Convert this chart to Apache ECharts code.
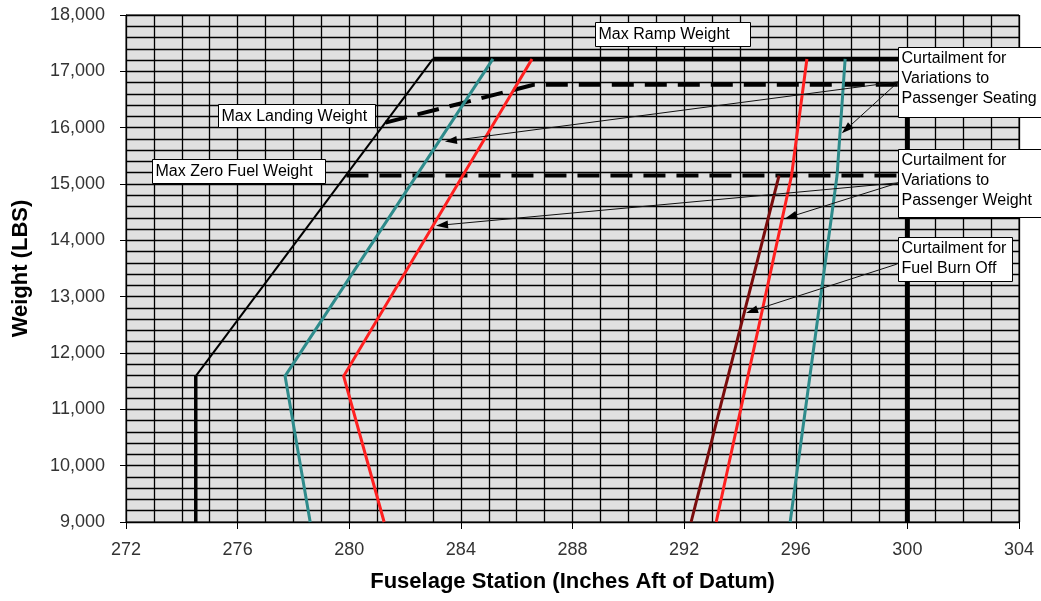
<!DOCTYPE html>
<html>
<head>
<meta charset="utf-8">
<script src="https://cdn.jsdelivr.net/npm/echarts@6/dist/echarts.min.js"></script>
<style>
html,body{margin:0;padding:0;background:#fff;}
#c{width:1041px;height:601px;}
</style>
</head>
<body>
<div id="c"></div>
<script>
// ---------- axis settings ----------
const X_MIN = 272, X_MAX = 304, X_STEP = 4;
const Y_MIN = 9000, Y_MAX = 18000, Y_STEP = 1000;

// ---------- data (Fuselage station in, Weight lbs) ----------
const envelopeFwdLower  = [[274.5, 9000], [274.5, 11590]];
const envelopeFwdUpper  = [[274.5, 11590], [283.0, 17220]];
const maxRampWeight     = [[283.0, 17220], [300, 17220]];
const envelopeAft       = [[300, 17220], [300, 9000]];
const maxLandingWeight  = [[281.3, 16090], [286.6, 16760], [300, 16760]];
const maxZeroFuelWeight = [[279.9, 15150], [300, 15150]];
const seatingFwd        = [[278.6, 9000], [277.7, 11590], [285.15, 17220]];
const paxWeightFwd      = [[281.25, 9000], [279.8, 11590], [286.55, 17220]];
const paxWeightAft      = [[293.15, 9000], [295.85, 15150], [296.4, 17220]];
const seatingAft        = [[295.8, 9000], [297.48, 15150], [297.77, 17220]];
const fuelBurnAft       = [[292.25, 9000], [295.4, 15150]];

// ---------- annotations ----------
const labelTexts = [
  'Max Ramp Weight',
  'Max Landing Weight',
  'Max Zero Fuel Weight',
  'Curtailment for\nVariations to\nPassenger Seating',
  'Curtailment for\nVariations to\nPassenger Weight',
  'Curtailment for\nFuel Burn Off'
];
// top-left corner of each label box, in data coordinates
const labelAnchors = [
  [288.81, 17881],
  [275.31, 16414],
  [272.92, 15442],
  [299.68, 17437],
  [299.68, 15615],
  [299.68, 14051]
];
// arrows: [from, to] in data coordinates
const arrowFrom = [
  [299.68, 16815], [299.68, 16815],
  [299.68, 15021], [299.68, 15021],
  [299.62, 13577]
];
const arrowTo = [
  [283.43, 15753], [297.65, 15899],
  [283.11, 14261], [295.62, 14389],
  [294.22, 12712]
];

// ---------- styles ----------
const FONT = "'Liberation Sans', Arial, sans-serif";
const boxSizes = [[155, 24], [157, 23], [173, 24], [145, 70], [145, 68], [114, 44]];
const TEAL = '#2e8b8b', RED = '#ff2020', MAROON = '#7a0c0c';
const GRID_LINE = { color: '#000', width: 1.3 };

function lineSeries(name, data, color, width, type) {
  return {
    name: name, type: 'line', data: data, showSymbol: false, symbol: 'none',
    silent: true, animation: false,
    lineStyle: { color: color, width: width, type: type || 'solid', cap: 'butt', join: 'miter' },
    z: 3
  };
}

const option = {
  animation: false,
  backgroundColor: '#ffffff',
  textStyle: { fontFamily: FONT },
  grid: {
    left: 126, right: 22, top: 15, bottom: 79,
    show: true, backgroundColor: '#e0e0e0', borderColor: '#000', borderWidth: 1
  },
  xAxis: {
    type: 'value', min: X_MIN, max: X_MAX, interval: X_STEP,
    name: 'Fuselage Station (Inches Aft of Datum)',
    nameLocation: 'middle', nameGap: 49,
    nameTextStyle: { fontSize: 22, fontWeight: 'bold', color: '#000', fontFamily: FONT },
    axisLine: { show: true, onZero: false, lineStyle: { color: '#000', width: 1 } },
    axisTick: { show: true, length: 7, lineStyle: { color: '#000' } },
    axisLabel: { fontSize: 18, color: '#333', margin: 19, fontFamily: FONT },
    splitLine: { show: true, lineStyle: GRID_LINE },
    minorTick: { show: false, splitNumber: 4 },
    minorSplitLine: { show: true, lineStyle: GRID_LINE }
  },
  yAxis: {
    type: 'value', min: Y_MIN, max: Y_MAX, interval: Y_STEP,
    name: 'Weight (LBS)',
    nameLocation: 'middle', nameGap: 94, nameRotate: 90,
    nameTextStyle: { fontSize: 22, fontWeight: 'bold', color: '#000', fontFamily: FONT },
    axisLine: { show: true, onZero: false, lineStyle: { color: '#000', width: 1 } },
    axisTick: { show: true, length: 6, lineStyle: { color: '#000' } },
    axisLabel: {
      fontSize: 18, color: '#333', margin: 21, fontFamily: FONT,
      formatter: v => v.toLocaleString('en-US')
    },
    splitLine: { show: true, lineStyle: GRID_LINE },
    minorTick: { show: false, splitNumber: 5 },
    minorSplitLine: { show: true, lineStyle: GRID_LINE }
  },
  series: [
    lineSeries('Forward limit lower', envelopeFwdLower, '#000', 3.5),
    lineSeries('Forward limit', envelopeFwdUpper, '#000', 2),
    lineSeries('Max Ramp Weight', maxRampWeight, '#000', 4.5),
    lineSeries('Aft limit', envelopeAft, '#000', 5),
    lineSeries('Max Landing Weight', maxLandingWeight, '#000', 4, [22, 11]),
    lineSeries('Max Zero Fuel Weight', maxZeroFuelWeight, '#000', 4, [22, 11]),
    lineSeries('Seating fwd', seatingFwd, TEAL, 3),
    lineSeries('Seating aft', seatingAft, TEAL, 3),
    lineSeries('Pax weight fwd', paxWeightFwd, RED, 3),
    lineSeries('Pax weight aft', paxWeightAft, RED, 3),
    lineSeries('Fuel burn off', fuelBurnAft, MAROON, 3)
  ]
};

const chart = echarts.init(document.getElementById('c'), null, { renderer: 'canvas' });
chart.setOption(option);

function toPx(p) { return chart.convertToPixel({ gridIndex: 0 }, p); }

const graphics = [];
// arrows
for (let i = 0; i < arrowFrom.length; i++) {
  const a = toPx(arrowFrom[i]), b = toPx(arrowTo[i]);
  const dx = b[0] - a[0], dy = b[1] - a[1];
  const len = Math.sqrt(dx * dx + dy * dy);
  const ux = dx / len, uy = dy / len;
  const L = 12, W = 8;
  const bx = b[0] - ux * L, by = b[1] - uy * L;
  graphics.push({
    type: 'line', z: 50, silent: true,
    shape: { x1: a[0], y1: a[1], x2: bx, y2: by },
    style: { stroke: '#111', lineWidth: 1 }
  });
  graphics.push({
    type: 'polygon', z: 50, silent: true,
    shape: { points: [[b[0], b[1]], [bx - uy * W / 2, by + ux * W / 2], [bx + uy * W / 2, by - ux * W / 2]] },
    style: { fill: '#000' }
  });
}
// label boxes
for (let i = 0; i < labelTexts.length; i++) {
  const p = toPx(labelAnchors[i]);
  const s = boxSizes[i];
  graphics.push({
    type: 'rect', z: 60, silent: true,
    shape: { x: Math.round(p[0]) + 0.5, y: Math.round(p[1]) + 0.5, width: s[0], height: s[1] },
    style: { fill: '#fff', stroke: '#000', lineWidth: 1 }
  });
  graphics.push({
    type: 'text', z: 61, silent: true,
    x: Math.round(p[0]) + 3.5, y: Math.round(p[1]) + (s[1] > 30 ? 2 : 3),
    style: {
      text: labelTexts[i], fill: '#000', fontSize: 16, fontFamily: FONT,
      lineHeight: 20, verticalAlign: 'top', align: 'left'
    }
  });
}
chart.setOption({ graphic: graphics });
</script>
</body>
</html>
